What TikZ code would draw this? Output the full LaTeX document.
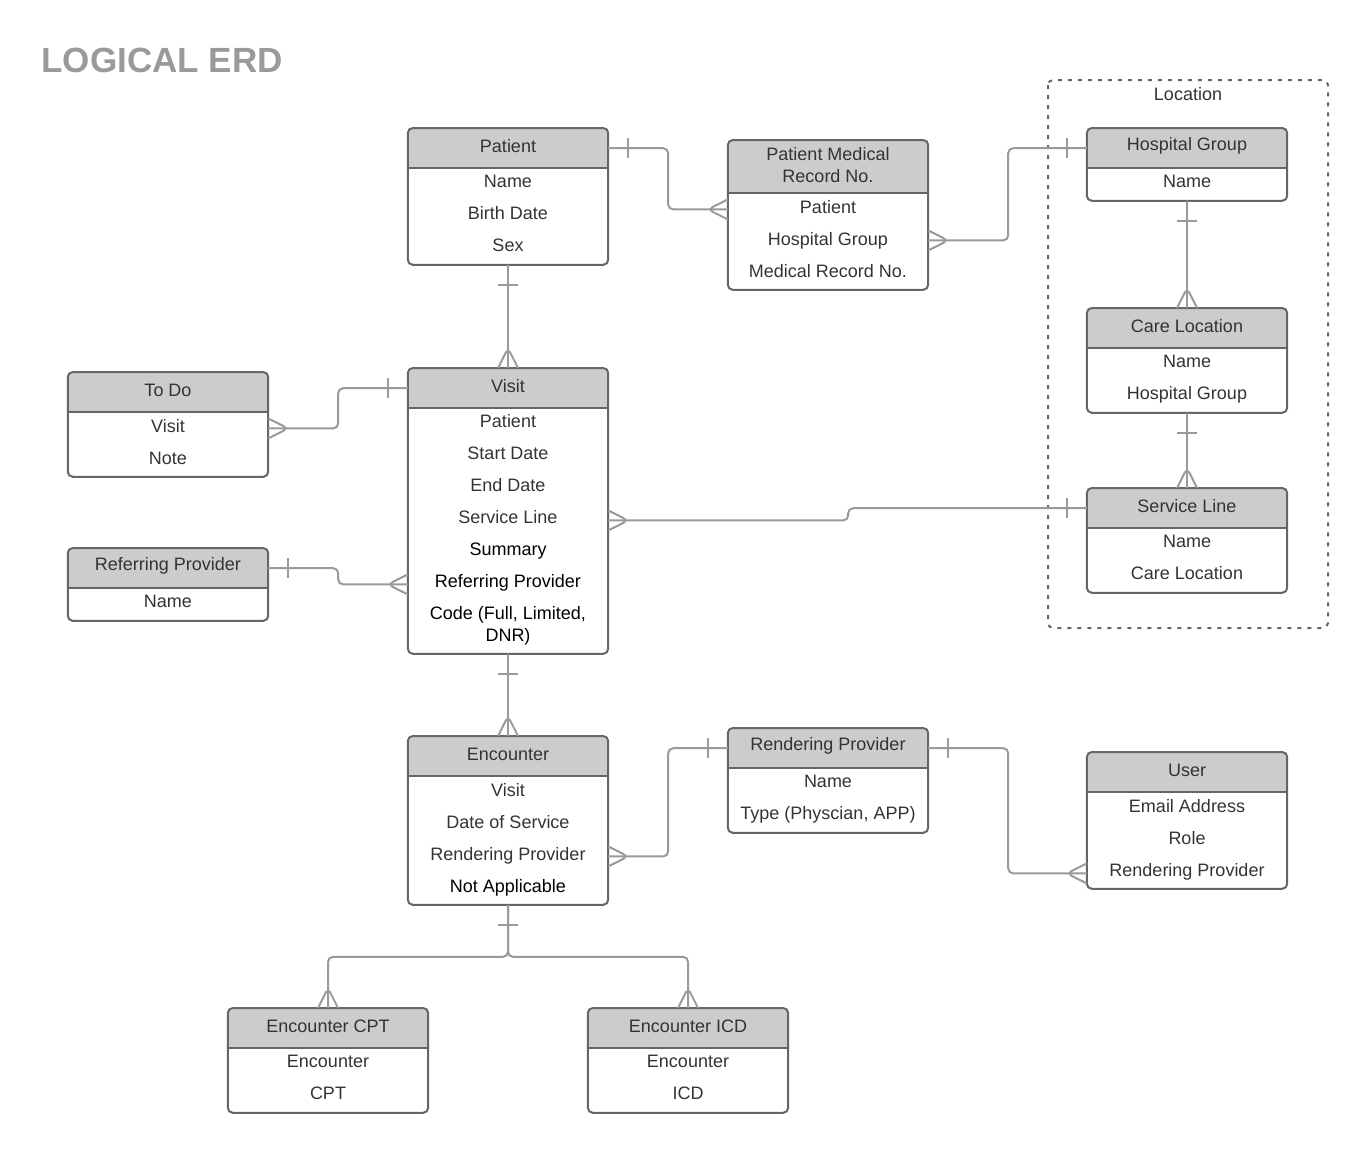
\documentclass[tikz,border=0pt]{standalone}
\usepackage{fontspec}
\setmainfont{Liberation Sans}
\usetikzlibrary{positioning, calc}

\definecolor{hdrgray}{HTML}{CCCCCC}
\definecolor{boxgray}{HTML}{666666}
\definecolor{linkgray}{HTML}{9A9A9A}
\definecolor{txtgray}{HTML}{333333}

\tikzstyle{hdr} = [rectangle, rounded corners=5pt, fill=hdrgray, minimum width=200pt,
minimum height=40pt, inner sep=0pt]
\tikzstyle{hdrtext} = [inner sep=0pt, align=center, text=txtgray, yshift=2pt,
font=\fontsize{18}{22}\selectfont]
\tikzstyle{body} = [rectangle, minimum width=200pt, inner sep=0pt, align=center,
text depth=6pt, text=txtgray, font=\fontsize{18}{32}\selectfont]
\tikzstyle{box} = [draw=boxgray, line width=2pt, rounded corners=5pt]
\tikzstyle{link} = [draw=linkgray, line width=2pt, rounded corners=5pt]

\tikzset{
  onebar/.pic={\draw[link] (20,-10) -- (20,10);},
  crowfoot/.pic={\draw[link] (0,-10) -- (20,0) -- (0,10);},
}

% #1 header options, #2 name, #3 top centre, #4 title, #5 rows, #6 body height
\newcommand{\entity}[6][]{
  \node[hdr, anchor=north, #1] (#2) at (#3) {};
  \fill[hdrgray] (#2.west) rectangle (#2.south east);
  \node[hdrtext] (#2t) at (#2.center) {#4};
  \node[body, below=0pt of #2, minimum height=#6] (#2b) {#5};
  \draw[box] (#2.north west) rectangle (#2b.south east);
  \draw[box, rounded corners=0pt] (#2.south west) -- (#2.south east);
}

\begin{document}
\begin{tikzpicture}[x=1pt, y=-1pt]
  \useasboundingbox (0,0) rectangle (1368,1152);

  \node (title) [anchor=west, text=linkgray, font=\fontsize{35}{40}\selectfont\bfseries]
  at (38,60) {LOGICAL ERD};

  % location group
  \draw[draw=boxgray, line width=2pt, rounded corners=5pt, dash pattern=on 4pt off 6pt]
  (1048,80) rectangle (1328,628);
  \node (loclabel) [text=txtgray, font=\fontsize{18}{20}\selectfont] at (1188,94) {Location};

  \entity{patient}{508,128}{Patient}{Name\\Birth Date\\Sex}{96pt}
  \entity[minimum height=53pt]{pmr}{828,140}{Patient Medical\\Record No.}
  {Patient\\Hospital Group\\Medical Record No.}{96pt}
  \entity{hg}{1187,128}{Hospital Group}{Name}{32pt}
  \entity{cl}{1187,308}{Care Location}{Name\\Hospital Group}{64pt}
  \entity{sl}{1187,488}{Service Line}{Name\\Care Location}{64pt}
  \entity{todo}{168,372}{To Do}{Visit\\Note}{64pt}
  \entity{visit}{508,368}{Visit}{Patient\\Start Date\\End Date\\Service Line\\
    {\color{black}Summary}\\{\color{black}Referring Provider}\\
    {\color{black}Code (Full, Limited,}\\[-10pt]{\color{black}DNR)}}{245pt}
  \entity{rp}{168,548}{Referring Provider}{Name}{32pt}
  \entity{enc}{508,736}{Encounter}{Visit\\Date of Service\\Rendering Provider\\
    {\color{black}Not Applicable}}{128pt}
  \entity{rend}{828,728}{Rendering Provider}{Name\\Type (Physcian, APP)}{64pt}
  \entity{user}{1187,752}{User}{Email Address\\Role\\Rendering Provider}{96pt}
  \entity{cpt}{328,1008}{Encounter CPT}{Encounter\\CPT}{64pt}
  \entity{icd}{688,1008}{Encounter ICD}{Encounter\\ICD}{64pt}

  % side points of the links
  \coordinate (pmrL) at ($(pmrb.north west)+(0,16)$);
  \coordinate (pmrR) at ($(pmrb.north east)+(0,47)$);
  \coordinate (todoR) at ($(todob.north east)+(0,16)$);
  \coordinate (visitR) at ($(visitb.north east)+(0,112)$);
  \coordinate (visitL) at ($(visitb.north west)+(0,176)$);
  \coordinate (encR) at ($(encb.north east)+(0,80)$);
  \coordinate (userL) at ($(userb.north west)+(0,81)$);

  % relationships
  \draw[link] (patient.east) -- ++(60,0) |- (pmrL);
  \pic at (patient.east) {onebar};
  \pic[rotate=180] at (pmrL) {crowfoot};

  \draw[link] (pmrR) -- ++(80,0) |- (hg.west);
  \pic at (pmrR) {crowfoot};
  \pic[rotate=180] at (hg.west) {onebar};

  \draw[link] (hgb.south) -- (cl.north);
  \pic[rotate=-90] at (hgb.south) {onebar};
  \pic[rotate=90] at (cl.north) {crowfoot};

  \draw[link] (clb.south) -- (sl.north);
  \pic[rotate=-90] at (clb.south) {onebar};
  \pic[rotate=90] at (sl.north) {crowfoot};

  \draw[link] (patientb.south) -- (visit.north);
  \pic[rotate=-90] at (patientb.south) {onebar};
  \pic[rotate=90] at (visit.north) {crowfoot};

  \draw[link] (todoR) -- ++(70,0) |- (visit.west);
  \pic at (todoR) {crowfoot};
  \pic[rotate=180] at (visit.west) {onebar};

  \draw[link] (visitR) -- ++(240,0) |- (sl.west);
  \pic at (visitR) {crowfoot};
  \pic[rotate=180] at (sl.west) {onebar};

  \draw[link] (rp.east) -- ++(70,0) |- (visitL);
  \pic at (rp.east) {onebar};
  \pic[rotate=180] at (visitL) {crowfoot};

  \draw[link] (visitb.south) -- (enc.north);
  \pic[rotate=-90] at (visitb.south) {onebar};
  \pic[rotate=90] at (enc.north) {crowfoot};

  \draw[link] (encR) -- ++(60,0) |- (rend.west);
  \pic at (encR) {crowfoot};
  \pic[rotate=180] at (rend.west) {onebar};

  \draw[link] (rend.east) -- ++(80,0) |- (userL);
  \pic at (rend.east) {onebar};
  \pic[rotate=180] at (userL) {crowfoot};

  \draw[link] (encb.south) -- ++(0,52) -| (cpt.north);
  \draw[link] (encb.south) -- ++(0,52) -| (icd.north);
  \pic[rotate=-90] at (encb.south) {onebar};
  \pic[rotate=90] at (cpt.north) {crowfoot};
  \pic[rotate=90] at (icd.north) {crowfoot};
\end{tikzpicture}
\end{document}
